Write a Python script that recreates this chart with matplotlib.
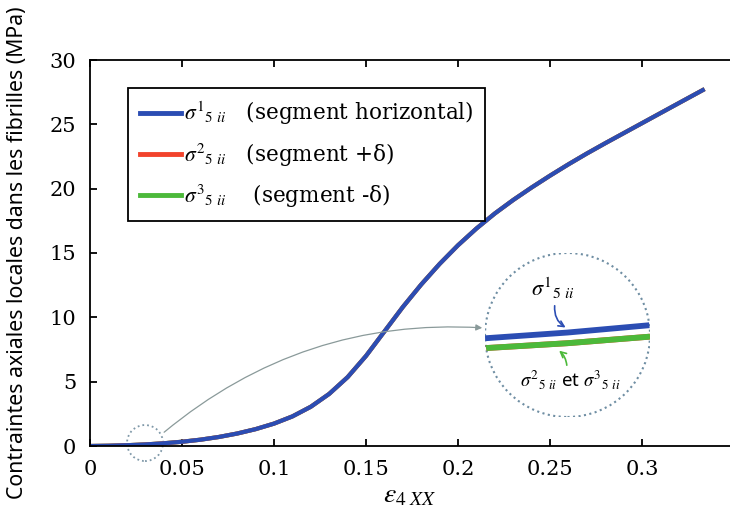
import numpy as np
import matplotlib
matplotlib.use("Agg")
import matplotlib.pyplot as plt
from matplotlib.patches import Circle, Ellipse, FancyArrowPatch

plt.rcParams['mathtext.fontset'] = 'stix'

# axial strain
eps = [0.0, 0.01, 0.02, 0.03, 0.04, 0.05, 0.06, 0.07, 0.08, 0.09,
       0.10, 0.11, 0.12, 0.13, 0.14, 0.15, 0.16, 0.17, 0.18, 0.19,
       0.20, 0.21, 0.22, 0.23, 0.24, 0.25, 0.26, 0.27, 0.28, 0.29,
       0.30, 0.31, 0.32, 0.333]
# local axial stress in fibrils (MPa); the three segments overlap at this scale
sig1 = [0.0, 0.02, 0.06, 0.12, 0.21, 0.33, 0.49, 0.70, 0.97, 1.31,
        1.74, 2.30, 3.05, 4.05, 5.35, 7.0, 8.9, 10.8, 12.55, 14.15,
        15.6, 16.9, 18.07, 19.12, 20.09, 21.01, 21.89, 22.73, 23.53, 24.31,
        25.09, 25.87, 26.65, 27.66]
sig2 = sig1
sig3 = sig1

# zoomed detail around eps ~ 0.03
zoom_x = [0.028, 0.0325, 0.037]
zoom_s1 = [0.196, 0.203, 0.212]
zoom_s2 = [0.184, 0.190, 0.198]
zoom_s3 = [0.184, 0.190, 0.198]

xticks = [0, 0.05, 0.1, 0.15, 0.2, 0.25, 0.3]
xticklabels = ['0', '0.05', '0.1', '0.15', '0.2', '0.25', '0.3']
yticks = [0, 5, 10, 15, 20, 25, 30]

BLUE = '#2b4db3'
RED = '#f2432c'
GREEN = '#4cb93a'

fig = plt.figure(figsize=(7.3, 5.12), dpi=100)
ax = fig.add_axes([90/730, 66/512, 640/730, 386/512])

ax.plot(eps, sig3, color=GREEN, lw=3, label=r'$\sigma^{\mathit{3}}{}_{5\ ii}$' + '    (segment -δ)')
ax.plot(eps, sig2, color=RED, lw=3, label=r'$\sigma^{\mathit{2}}{}_{5\ ii}$' + '   (segment +δ)')
ax.plot(eps, sig1, color=BLUE, lw=3, label=r'$\sigma^{\mathit{1}}{}_{5\ ii}$' + '   (segment horizontal)')

ax.set_xlim(0, 640/1840)
ax.set_ylim(0, 30)
ax.set_xticks(xticks)
ax.set_xticklabels(xticklabels)
ax.set_yticks(yticks)
for s in ['left', 'bottom', 'top']:
    ax.spines[s].set_linewidth(1.3)
ax.spines['right'].set_visible(False)
ax.tick_params(direction='in', length=5, width=1.3, top=True, right=False, pad=10,
               labelsize=15)
for lab in ax.get_xticklabels() + ax.get_yticklabels():
    lab.set_family('DejaVu Serif')

ax.set_xlabel(r'$\varepsilon_{4\ XX}$', fontsize=20, labelpad=1)
ax.set_ylabel('Contraintes axiales locales dans les fibrilles (MPa)',
              family='Noto Sans', fontsize=15.3)
ax.yaxis.set_label_coords(-0.097, 0.5)

h, l = ax.get_legend_handles_labels()
leg = ax.legend(h[::-1], l[::-1], loc='upper left',
                bbox_to_anchor=(128/730, 1 - 88/512), bbox_transform=fig.transFigure,
                borderaxespad=0, fancybox=False, framealpha=1, edgecolor='black',
                handlelength=1.9, handletextpad=0.15, borderpad=0.55, labelspacing=0.65,
                prop={'family': 'DejaVu Serif', 'size': 15.5})
leg.get_frame().set_linewidth(1.3)
for ln in leg.get_lines():
    ln.set_linewidth(3.5)

# small dotted circle marking the zoomed region
ax.add_patch(Ellipse((0.0299, 0.23), 36/1840, 36/12.87, fill=False,
                     ls=':', lw=1.3, ec='#7f98a8', clip_on=False))

# inset
ins = fig.add_axes([485/730, 95/512, 165/730, 164/512])
ins.set_xlim(zoom_x[0], zoom_x[-1])
ins.set_ylim(0.10, 0.30)
ins.axis('off')
circ = Circle((0.5, 0.5), 0.5, transform=ins.transAxes, fill=False,
              ls=':', lw=1.5, ec='#6f8ea3')
ins.add_patch(circ)
for ys, c in [(zoom_s2, RED), (zoom_s3, GREEN), (zoom_s1, BLUE)]:
    ln, = ins.plot(zoom_x, ys, color=c, lw=4.2, solid_capstyle='butt')
    ln.set_clip_path(circ)

ins.text(0.412, 0.787, r'$\sigma^{\mathit{1}}{}_{5\ ii}$', transform=ins.transAxes,
         ha='center', va='center', fontsize=16)
ins.annotate('', xy=(0.503, 0.537), xytext=(0.424, 0.695),
             xycoords='axes fraction', textcoords='axes fraction',
             arrowprops=dict(arrowstyle='->', color=BLUE, lw=1.2,
                             connectionstyle='arc3,rad=0.35'))
ins.text(0.515, 0.226, r'$\sigma^{\mathit{2}}{}_{5\ ii}$' + ' et ' + r'$\sigma^{\mathit{3}}{}_{5\ ii}$',
         transform=ins.transAxes, ha='center', va='center', fontsize=13.5,
         family='Noto Sans')
ins.annotate('', xy=(0.436, 0.415), xytext=(0.497, 0.299),
             xycoords='axes fraction', textcoords='axes fraction',
             arrowprops=dict(arrowstyle='->', color=GREEN, lw=1.2,
                             connectionstyle='arc3,rad=0.25'))

# connector from the small circle to the inset
fig.add_artist(FancyArrowPatch(
    (162/730, 1 - 434/512), (485/730, 1 - 328/512), transform=fig.transFigure,
    connectionstyle='arc3,rad=-0.2', arrowstyle='-|>', mutation_scale=9,
    color='#8a9a9a', lw=0.9))

fig.savefig('out.png', dpi=100)
